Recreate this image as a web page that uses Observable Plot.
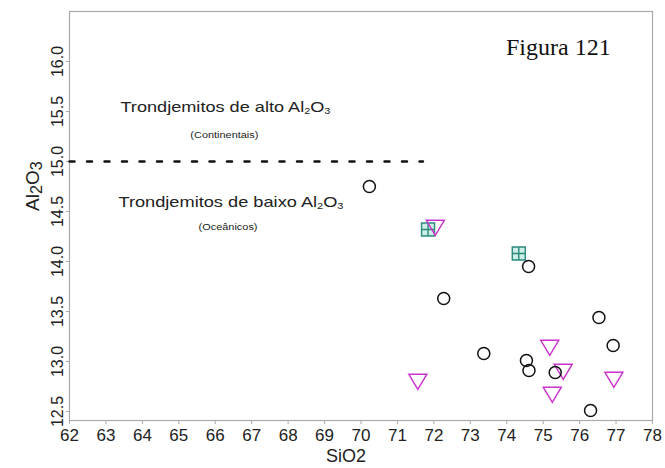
<!DOCTYPE html>
<html>
<head>
<meta charset="utf-8">
<script src="https://cdn.jsdelivr.net/npm/d3@7"></script>
<script src="https://cdn.jsdelivr.net/npm/@observablehq/plot@0.6"></script>
<style>
  html, body { margin: 0; padding: 0; background: #fff; }
  #chart { position: relative; width: 665px; height: 468px; }
  #fig { position: absolute; left: 506px; top: 34px; font-family: "Liberation Serif", "Times New Roman", serif; font-size: 24px; color: #111; }
</style>
</head>
<body>
<div id="chart"><div id="fig">Figura 121</div></div>
<script>
// Data
const circleSiO2 = [70.23, 74.60, 72.27, 76.53, 76.92, 73.37, 74.54, 74.61, 75.33, 76.30];
const circleAl2O3 = [14.75, 13.95, 13.63, 13.44, 13.16, 13.08, 13.01, 12.91, 12.89, 12.51];
const triSiO2 = [72.04, 75.18, 75.55, 71.56, 75.25, 76.94];
const triAl2O3 = [14.34, 13.14, 12.90, 12.80, 12.67, 12.82];
const sqSiO2 = [71.84, 74.33];
const sqAl2O3 = [14.32, 14.08];
const xTicks = d3.range(62, 79, 1);
const yTicks = [12.5, 13.0, 13.5, 14.0, 14.5, 15.0, 15.5, 16.0];
const boundarySiO2 = [62, 71.7];
const boundaryAl2O3 = 15.0;
const noteTexts = ["Trondjemitos de alto Al₂O₃", "(Continentais)", "Trondjemitos de baixo Al₂O₃", "(Oceânicos)"];
const noteSiO2 = [66.28, 66.25, 66.43, 66.35];
const noteAl2O3 = [15.54, 15.26, 14.59, 14.34];

// layout for the annotations (font size, stretched width in px)
const noteStyle = [{size: 15, len: 210}, {size: 8.5, len: 68}, {size: 15, len: 225}, {size: 8.5, len: 59}];

const circles = circleSiO2.map((x, i) => ({x, y: circleAl2O3[i]}));
const tris = triSiO2.map((x, i) => ({x, y: triAl2O3[i]}));
const squares = sqSiO2.map((x, i) => ({x, y: sqAl2O3[i]}));
const boundary = boundarySiO2.map(x => ({x, y: boundaryAl2O3}));
const notes = noteTexts.map((text, i) => ({text, x: noteSiO2[i], y: noteAl2O3[i], i}));

const triDown = {
  draw(ctx, size) {
    const r = Math.sqrt(size / Math.PI);
    ctx.moveTo(-1.5 * r, -1.2 * r);
    ctx.lineTo(1.5 * r, -1.2 * r);
    ctx.lineTo(0, 1.3 * r);
    ctx.closePath();
  }
};
const gridSquare = {
  draw(ctx, size) {
    const h = Math.sqrt(size / Math.PI);
    ctx.moveTo(-h, -h); ctx.lineTo(h, -h); ctx.lineTo(h, h); ctx.lineTo(-h, h); ctx.closePath();
    ctx.moveTo(0, -h); ctx.lineTo(0, h);
    ctx.moveTo(-h, 0); ctx.lineTo(h, 0);
  }
};

const font = "'Liberation Sans', Arial, sans-serif";

const plot = Plot.plot({
  width: 665,
  height: 468,
  marginLeft: 69,
  marginRight: 13,
  marginTop: 11,
  marginBottom: 48,
  style: {fontFamily: font, background: "transparent"},
  x: {domain: [62, 78]},
  y: {domain: [12.41, 16.5]},
  marks: [
    Plot.frame({stroke: "#aaa", strokeWidth: 1.2}),
    Plot.axisX({ticks: xTicks, tickSize: 4, tickPadding: 4, fontSize: 17, stroke: "#aaa", color: "#222", label: null}),
    Plot.axisY({ticks: yTicks, tickSize: 3, tickPadding: 4, fontSize: 16, tickRotate: -90, tickFormat: d3.format(".1f"), stroke: "#aaa", color: "#222", label: null}),
    Plot.text(["SiO2"], {frameAnchor: "bottom", dy: 41, dx: -15, fontSize: 18, fill: "#222"}),
    Plot.text(["Al₂O₃"], {frameAnchor: "left", dx: -37, dy: -5, rotate: -90, fontSize: 19, fill: "#222"}),
    Plot.line(boundary, {x: "x", y: "y", stroke: "#111", strokeWidth: 2.5, strokeDasharray: "5,12.5"}),
    Plot.text(notes, {x: "x", y: "y", text: "text", fontSize: d => noteStyle[d.i].size, fill: "#222", className: "note"}),
    Plot.dot(squares, {x: "x", y: "y", symbol: gridSquare, r: 6.5, stroke: "#2a8a7c", fill: "#cdeee6", strokeWidth: 1.4}),
    Plot.dot(tris, {x: "x", y: "y", symbol: triDown, r: 6, stroke: "#cc33cc", fill: "none", strokeWidth: 1.5}),
    Plot.dot(circles, {x: "x", y: "y", r: 6, stroke: "#111", fill: "none", strokeWidth: 1.5})
  ]
});

// turn unicode subscripts into lowered digits
const subMap = {"₂": "2", "₃": "3"};
d3.select(plot).selectAll("text").each(function() {
  const el = this;
  const t = el.textContent;
  if (!/[₂₃]/.test(t)) return;
  const big = t === "Al₂O₃";
  el.textContent = "";
  const parts = t.split(/([₂₃])/).filter(s => s.length);
  for (const p of parts) {
    const ts = document.createElementNS("http://www.w3.org/2000/svg", "tspan");
    if (subMap[p]) {
      ts.textContent = subMap[p];
      ts.setAttribute("baseline-shift", big ? "-20%" : "-25%");
      ts.setAttribute("font-size", big ? "85%" : "60%");
    } else {
      ts.textContent = p;
    }
    el.appendChild(ts);
  }
});

// stretch annotation texts horizontally like the original
d3.select(plot).selectAll("g.note text").each(function() {
  const idx = notes.findIndex(n => this.textContent === n.text.replace(/₂/g, "2").replace(/₃/g, "3"));
  if (idx >= 0) {
    this.setAttribute("textLength", noteStyle[idx].len);
    this.setAttribute("lengthAdjust", "spacingAndGlyphs");
  }
});

document.getElementById("chart").appendChild(plot);
plot.style.position = "absolute";
plot.style.left = "0px";
plot.style.top = "0px";
</script>
</body>
</html>
